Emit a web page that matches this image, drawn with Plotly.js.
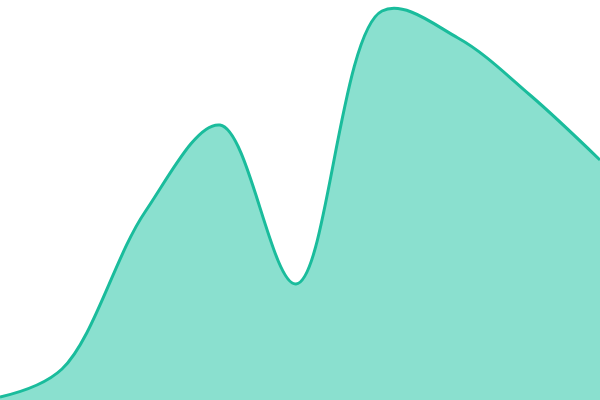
<!DOCTYPE html>
<html>
<head>
<meta charset="utf-8">
<script src="https://cdn.plot.ly/plotly-3.0.1.min.js"></script>
<style>
  html, body { margin: 0; padding: 0; background: #fff; }
  #chart { width: 600px; height: 400px; }
</style>
</head>
<body>
<div id="chart"></div>
<script>
const xs = [0, 62, 145, 220, 296, 382, 458, 530, 600];
const ys = [3, 31, 188, 275, 116, 389, 362, 305, 240];

const trace = {
  x: xs,
  y: ys,
  type: "scatter",
  mode: "lines",
  fill: "tozeroy",
  fillcolor: "#8ae0cf",
  line: { color: "#1abc9c", width: 3, shape: "spline", smoothing: 1 },
  hoverinfo: "skip"
};

Plotly.newPlot(
  "chart",
  [trace],
  {
    width: 600,
    height: 400,
    margin: { l: 0, r: 0, t: 0, b: 0 },
    paper_bgcolor: "#ffffff",
    plot_bgcolor: "#ffffff",
    showlegend: false,
    xaxis: { range: [0, 600], visible: false, fixedrange: true },
    yaxis: { range: [0, 400], visible: false, fixedrange: true }
  },
  { staticPlot: true, displayModeBar: false }
);
</script>
</body>
</html>
